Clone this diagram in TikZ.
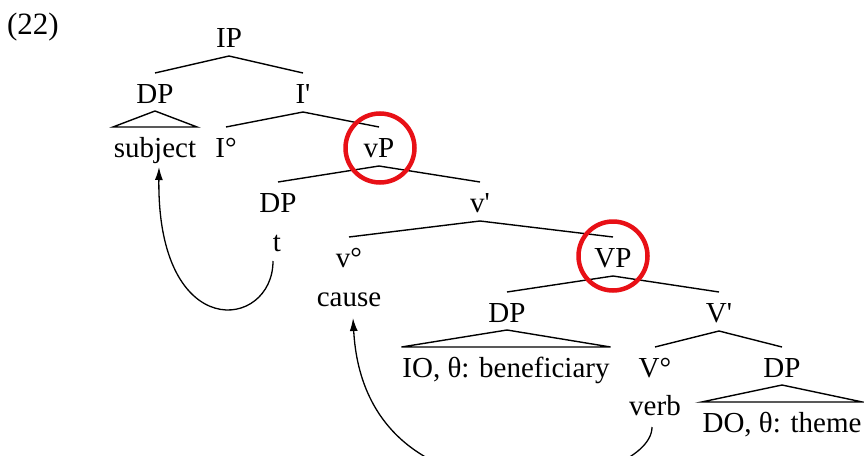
\documentclass[tikz,border=0pt]{standalone}
\usepackage{fontspec}
\newfontfamily\treefont{Liberation Serif}
\usetikzlibrary{calc,arrows.meta}
\definecolor{ringred}{RGB}{232,16,22}
\begin{document}
\begin{tikzpicture}[x=1pt,y=-1pt,
  lbl/.style={anchor=base,inner sep=0pt,outer sep=0pt,font=\treefont\fontsize{29}{34}\selectfont},
  branch/.style={line width=1.4pt},
  ring/.style={draw=ringred,line width=4.5pt},
  move/.style={line width=1.3pt,-{Latex[length=13pt,width=8pt]}}]
\useasboundingbox (0,0) rectangle (864,455);
\clip (0,0) rectangle (864,455);
\newcommand\branch[2]{\draw[branch] ($(#1.base)+(0,9)$) -- ($(#2.base)+(0,-30)$);}
\newcommand\tri[2]{\draw[branch] ($(#1.base)+(0,8)$) -- ($(#2.base west)+(-1,-30)$) -- ($(#2.base east)+(1,-30)$) -- cycle;}

\node[lbl,anchor=base west,font=\treefont\fontsize{31}{36}\selectfont] (ex) at (7,34) {(22)};
\node[lbl] (IP) at (229,47) {IP};
\node[lbl] (DPa) at (155,103) {DP};
\node[lbl] (Ib) at (303,103) {I'};
\node[lbl] (subj) at (155,157) {subject};
\node[lbl] (I0) at (226,157) {I°};
\node[lbl] (vP) at (379,157) {vP};
\node[lbl] (DPb) at (278,212) {DP};
\node[lbl] (vb) at (480,212) {v'};
\node[lbl] (t) at (277,251) {t};
\node[lbl] (v0) at (349,267) {v°};
\node[lbl] (VP) at (613,267) {VP};
\node[lbl] (cause) at (349,306) {cause};
\node[lbl] (DPc) at (507,322) {DP};
\node[lbl] (Vb) at (719,322) {V'};
\node[lbl] (IO) at (506,377) {IO, θ: beneficiary};
\node[lbl] (V0) at (655,377) {V°};
\node[lbl] (DPd) at (782,377) {DP};
\node[lbl] (verb) at (655,415) {verb};
\node[lbl] (DO) at (782,432) {DO, θ: theme};

\branch{IP}{DPa}\branch{IP}{Ib}
\branch{Ib}{I0}\branch{Ib}{vP}
\branch{vP}{DPb}\branch{vP}{vb}
\branch{vb}{v0}\branch{vb}{VP}
\branch{VP}{DPc}\branch{VP}{Vb}
\branch{Vb}{V0}\branch{Vb}{DPd}
\tri{DPa}{subj}
\tri{DPc}{IO}
\tri{DPd}{DO}

\draw[ring] ($(vP.base)+(1,-9)$) circle[radius=34.5];
\draw[ring] ($(VP.base)+(0,-11)$) circle[radius=34.5];

\draw[move] ($(t.base)+(-4,10)$) .. controls (273,330) and (157,345) .. ($(subj.base)+(4,10)$);
\draw[move] ($(verb.base)+(-3,12)$) .. controls (652,490) and (365,540) .. ($(cause.base)+(4,12)$);
\end{tikzpicture}
\end{document}
